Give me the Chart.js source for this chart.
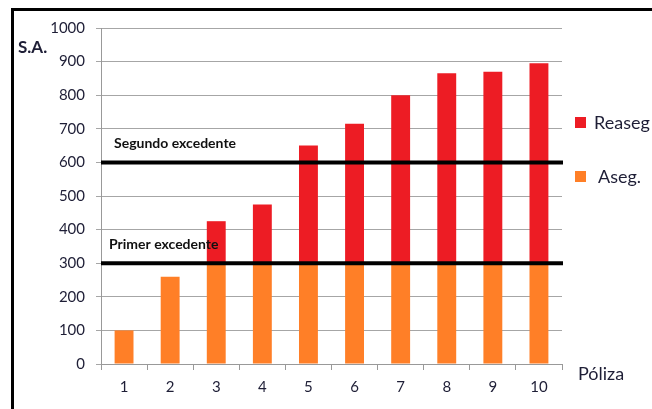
<!DOCTYPE html>
<html>
<head>
<meta charset="utf-8">
<script src="https://cdn.jsdelivr.net/npm/chart.js@4"></script>
<style>
  html, body { margin: 0; padding: 0; background: #fff; }
  #wrap { position: relative; width: 652px; height: 409px; overflow: hidden; font-family: Lato, "Open Sans", sans-serif; }
  #frame { position: absolute; left: 11px; top: 8px; right: -10px; bottom: -10px; border-left: 3px solid #000; border-top: 3px solid #000; pointer-events: none; }
  canvas { position: absolute; left: 0; top: 0; }
  .txt { position: absolute; color: #1e1e36; white-space: nowrap; line-height: 22px; }
  .box { position: absolute; width: 11px; height: 11px; }
</style>
</head>
<body>
<div id="wrap">
  <canvas id="chart" width="652" height="409"></canvas>
  <div id="frame"></div>
  <div class="txt" style="left:18px; top:36px; font-size:17px; font-weight:bold;">S.A.</div>
  <div class="txt" style="left:578px; top:362px; font-size:18px;">Póliza</div>
  <div class="box" style="left:575px; top:117px; background:#ed1c24;"></div>
  <div class="txt" style="left:594px; top:111px; font-size:18px;">Reaseg</div>
  <div class="box" style="left:575px; top:171px; background:#ff7f27;"></div>
  <div class="txt" style="left:598px; top:165px; font-size:18px;">Aseg.</div>
</div>
<script>
const polizas = ['1', '2', '3', '4', '5', '6', '7', '8', '9', '10'];
const aseg = [100, 260, 300, 300, 300, 300, 300, 300, 300, 300];
const reaseg = [0, 0, 125, 175, 350, 415, 500, 565, 570, 595];
const limites = [300, 600];
const limiteLabels = ['Primer excedente', 'Segundo excedente'];

// black horizontal lines for the excess limits, with their labels
const limitesPlugin = {
  id: 'limites',
  afterDatasetsDraw(chart) {
    const ctx = chart.ctx;
    const area = chart.chartArea;
    const y = chart.scales.y;
    ctx.save();
    limites.forEach((v, i) => {
      const py = y.getPixelForValue(v);
      ctx.strokeStyle = '#000';
      ctx.lineWidth = 4;
      ctx.beginPath();
      ctx.moveTo(area.left, py);
      ctx.lineTo(area.right + 1, py);
      ctx.stroke();
      ctx.fillStyle = '#111';
      ctx.font = 'bold 14px Lato, sans-serif';
      ctx.textBaseline = 'middle';
      ctx.fillText(limiteLabels[i], i === 0 ? 109 : 114, py - 19);
    });
    ctx.restore();
  }
};

const ctx = document.getElementById('chart').getContext('2d');
new Chart(ctx, {
  type: 'bar',
  data: {
    labels: polizas,
    datasets: [
      { label: 'Aseg.', data: aseg, backgroundColor: '#ff7f27', barPercentage: 0.41, categoryPercentage: 1 },
      { label: 'Reaseg', data: reaseg, backgroundColor: '#ed1c24', barPercentage: 0.41, categoryPercentage: 1 }
    ]
  },
  options: {
    responsive: false,
    animation: false,
    layout: { padding: { top: 28, right: 90, left: 0, bottom: 0 } },
    plugins: {
      legend: { display: false },
      tooltip: { enabled: false }
    },
    scales: {
      x: {
        stacked: true,
        afterFit: (s) => { s.height = 45; },
        grid: { drawOnChartArea: false, color: '#999', tickLength: 6 },
        border: { color: '#999' },
        ticks: { color: '#1e1e36', font: { family: 'Lato', size: 15 }, padding: 8 }
      },
      y: {
        stacked: true,
        min: 0,
        max: 1000,
        afterFit: (s) => { s.width = 101; },
        grid: { color: '#a6a6a6', tickLength: 5 },
        border: { color: '#999' },
        ticks: {
          stepSize: 100,
          color: '#1e1e36',
          font: { family: 'Lato', size: 15 },
          padding: 11,
          callback: (v) => String(v)
        }
      }
    }
  },
  plugins: [limitesPlugin]
});
</script>
</body>
</html>
